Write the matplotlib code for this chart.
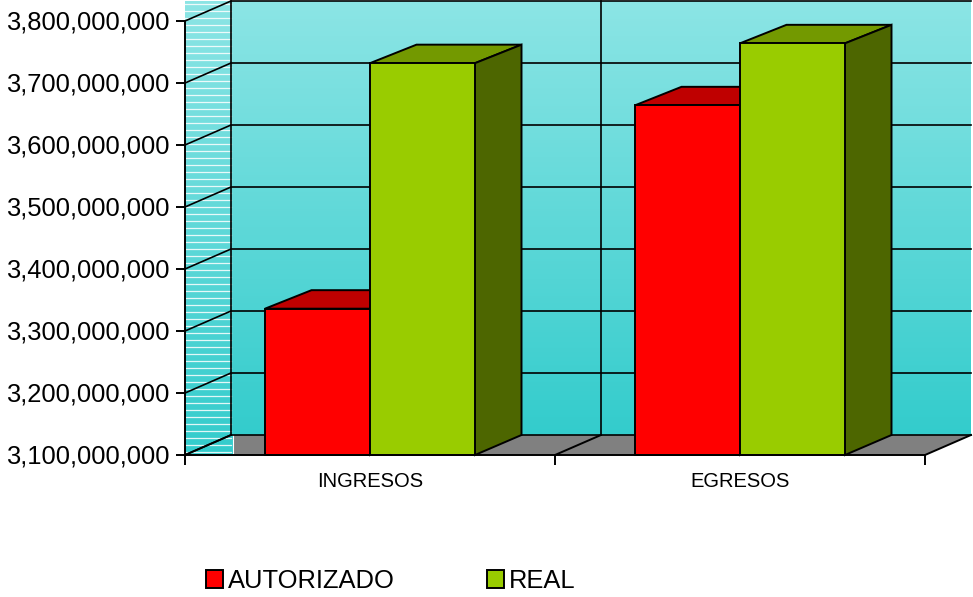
#!/usr/bin/env python3
"""Autorizado vs real, fake-3D column chart with depth drawn by hand."""
import matplotlib
matplotlib.use("Agg")
import matplotlib.pyplot as plt
import numpy as np
from matplotlib.colors import LinearSegmentedColormap
from matplotlib.patches import Patch, Polygon
from matplotlib.ticker import StrMethodFormatter
from matplotlib.transforms import ScaledTranslation

plt.rcParams["font.family"] = ["Liberation Sans", "DejaVu Sans"]

CATEGORIES = ["INGRESOS", "EGRESOS"]
AUTORIZADO = [3336000000, 3664000000]
REAL = [3732000000, 3764000000]
Y_TICKS = [3100000000 + i * 100000000 for i in range(8)]

W, H = 973, 597
L, R, T, B = 185, 925, 21, 455   # front plane in pixels
Y0, Y1 = Y_TICKS[0], Y_TICKS[-1]
# depth of the box, in data units
DX = 46 / (R - L) * 2
DY = 20 / (B - T) * (Y1 - Y0)
BAR_DX = 46.5 / (R - L) * 2
BAR_DY = 18.5 / (B - T) * (Y1 - Y0)
BAR_W = 105 / (R - L) * 2
LW = 1.4
GRID_LW = 1.2

fig = plt.figure(figsize=(W / 100, H / 100), dpi=100)
ax = fig.add_axes([L / W, 1 - B / H, (R - L) / W, (B - T) / H])
ax.set_xlim(0, 2)
ax.set_ylim(Y0, Y1)

wall_cm = LinearSegmentedColormap.from_list("wall", ["#8ce5e5", "#33cccc"])
grad = np.linspace(0, 1, 256).reshape(-1, 1)
# back wall
ax.imshow(grad, cmap=wall_cm, aspect="auto", clip_on=False, zorder=1,
          extent=(DX, 2 + DX, Y0 + DY, Y1 + DY))
# side wall with the pale stripes
side_r = DX + 2 / (R - L) * 2
ax.imshow(grad, cmap=wall_cm, aspect="auto", clip_on=False, zorder=1,
          extent=(0, side_r, Y0, Y1 + DY))
step = 7 / (B - T) * (Y1 - Y0)
for y in np.arange(Y0 + step / 2, Y1 + DY, step):
    ax.plot([0, DX], [y, y], color="white", lw=0.9, alpha=0.85, clip_on=False, zorder=1.5)
ax.set_xlim(0, 2)
ax.set_ylim(Y0, Y1)

# floor
ax.add_patch(Polygon([(side_r, Y0), (side_r, Y0 + DY), (2 + DX, Y0 + DY), (2, Y0)],
                     fc="#808080", ec="none", clip_on=False, zorder=2))
ax.plot([side_r, side_r], [Y0, Y0 + DY], color="white", lw=0.8, clip_on=False, zorder=2.1)
for x in [0, 1, 2]:
    ax.plot([x, x + DX], [Y0, Y0 + DY], color="black", lw=LW, clip_on=False, zorder=3)

# grid on both walls
for y in Y_TICKS:
    ax.plot([0, DX, 2 + DX], [y, y + DY, y + DY], color="black", lw=GRID_LW, clip_on=False, zorder=3)
for x in [DX, 1 + DX]:
    ax.plot([x, x], [Y0 + DY, Y1 + DY], color="black", lw=GRID_LW, clip_on=False, zorder=3)


def bar3d(x0, val, front, top, side, z):
    x1 = x0 + BAR_W
    ax.add_patch(Polygon([(x0, val), (x0 + BAR_DX, val + BAR_DY), (x1 + BAR_DX, val + BAR_DY), (x1, val)],
                         fc=top, ec="black", lw=LW, clip_on=False, zorder=z))
    ax.add_patch(Polygon([(x1, Y0), (x1 + BAR_DX, Y0 + DY), (x1 + BAR_DX, val + BAR_DY), (x1, val)],
                         fc=side, ec="black", lw=LW, clip_on=False, zorder=z))
    ax.bar(x0, val - Y0, BAR_W, bottom=Y0, align="edge", color=front, edgecolor="black",
           linewidth=LW, clip_on=False, zorder=z + 0.1)


for i in range(len(CATEGORIES)):
    center = i + 0.5
    bar3d(center - BAR_W, AUTORIZADO[i], "#ff0000", "#bf0000", "#bf0000", 4)
    bar3d(center, REAL[i], "#99cc00", "#739900", "#4d6600", 5)

ax.spines[["top", "right"]].set_visible(False)
ax.spines[["left", "bottom"]].set_linewidth(LW)
ax.spines[["left", "bottom"]].set_zorder(7)
ax.set_yticks(Y_TICKS)
ax.yaxis.set_major_formatter(StrMethodFormatter("{x:,.0f}"))
ax.tick_params(axis="y", length=6.5, width=LW, pad=4.5, labelsize=18.4)
for lab in ax.get_yticklabels():
    lab.set_transform(lab.get_transform() + ScaledTranslation(0, 1 / 72, fig.dpi_scale_trans))
ax.set_xticks([0, 1, 2])
ax.set_xticklabels([])
ax.set_xticks([i + 0.5 for i in range(len(CATEGORIES))], CATEGORIES, minor=True)
ax.tick_params(axis="x", which="major", length=7, width=LW)
ax.tick_params(axis="x", which="minor", length=0, pad=12.5, labelsize=14.5)

handles = [Patch(fc="#ff0000", ec="black", lw=LW, label="AUTORIZADO"),
           Patch(fc="#99cc00", ec="black", lw=LW, label="REAL")]
fig.legend(handles=handles, ncol=2, frameon=False, fontsize=18.4,
           loc="center left", bbox_to_anchor=(206 / W, 1 - 581 / H), borderaxespad=0,
           borderpad=0, handlelength=0.66, handleheight=0.7, handletextpad=0.2,
           columnspacing=3.6)

fig.savefig("out.png", dpi=100)
